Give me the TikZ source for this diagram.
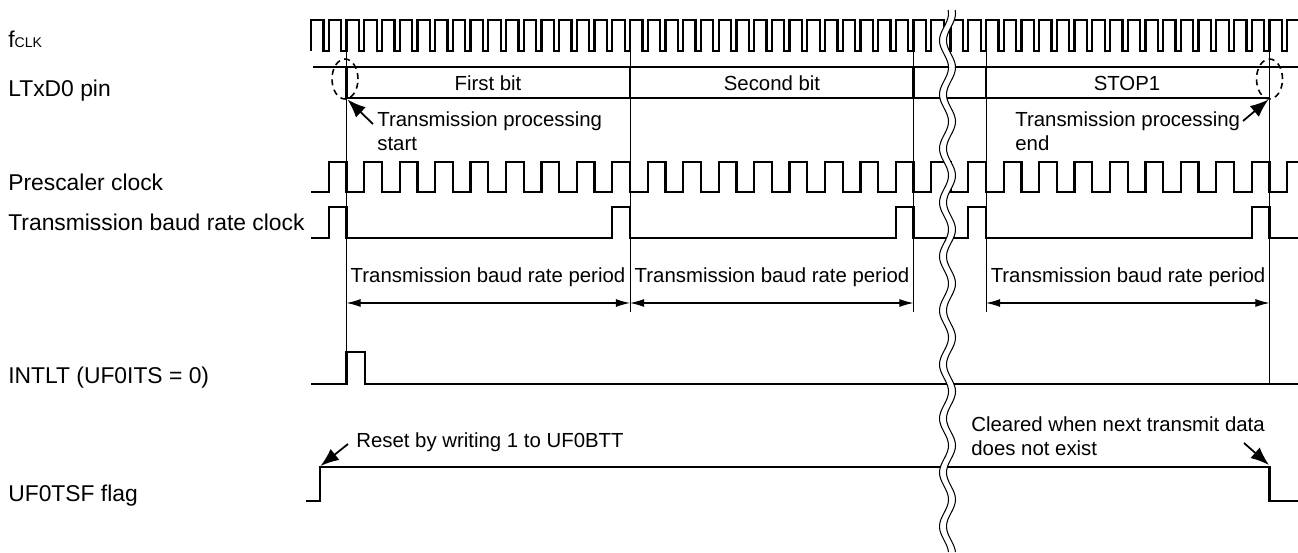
\documentclass[tikz,border=0pt]{standalone}
\usepackage{fontspec}
\setmainfont{Liberation Sans}
\usetikzlibrary{arrows.meta}

\begin{document}
\begin{tikzpicture}[
    x=0.02cm, y=-0.02cm,
    sig/.style={line width=1.3pt},
    marker/.style={line width=0.5pt},
    lbl/.style={inner sep=0pt, anchor=base west, font=\fontsize{13}{15}\selectfont},
    note/.style={inner sep=0pt, align=left, anchor=base west, font=\fontsize{11.6}{13.2}\selectfont},
    bitname/.style={inner sep=0pt, anchor=base, font=\fontsize{11.6}{13.2}\selectfont},
    period/.style={{Latex[length=8pt,width=4.5pt]}-{Latex[length=8pt,width=4.5pt]}, line width=0.6pt},
    pointer/.style={-{Latex[length=10.5pt,width=8pt]}, line width=1pt},
    ring/.style={line width=0.9pt, dash pattern=on 3.4pt off 2.6pt},
    gapline/.style={line width=0.6pt},
  ]
    \useasboundingbox (0,0) rectangle (1298,552);

    % Signal names
    \node[lbl] (fclk) at (8,47) {f{\fontsize{8}{8}\selectfont CLK}};
    \node[lbl] (txd) at (8,96) {LTxD0 pin};
    \node[lbl] (presc) at (8,190) {Prescaler clock};
    \node[lbl] (baud) at (8,230) {Transmission baud rate clock};
    \node[lbl] (intlt) at (8,383) {INTLT (UF0ITS = 0)};
    \node[lbl] (tsf) at (8,501) {UF0TSF flag};

    % Waveforms before the break
    \begin{scope}
      \clip plot[domain=-5:560, samples=200, variable=\t]
        ({944+4.5*sin((\t/54)*360)},{\t}) -- (0,560) -- (0,-5) -- cycle;
      \draw[sig] (311.1,51) \foreach \k in {1,...,37}
        { -- ++(0,-31) -- ++(12.4,0) -- ++(0,31) -- ++(5.32,0) };
      \draw[sig] (313,67) -- (960,67);
      \draw[sig] (346.5,98) -- (960,98);
      \foreach \b in {346.5,630,913.5}
        \draw[sig] (\b,67) -- (\b,98);
      \draw[sig] (311,192) -- (328.8,192) \foreach \k in {1,...,18}
        { -- ++(0,-30) -- ++(17.72,0) -- ++(0,30) -- ++(17.72,0) };
      \draw[sig] (311,238) -- (328.8,238) \foreach \k in {1,2,3}
        { -- ++(0,-31) -- ++(17.72,0) -- ++(0,31) -- ++(265.78,0) };
      \draw[sig] (311,384) -- (346.5,384) -- (346.5,352) -- (365,352)
        -- (365,384) -- (960,384);
      \draw[sig] (306,501) -- (320,501) -- (320,467) -- (960,467);
    \end{scope}

    % Waveforms after the break
    \begin{scope}
      \clip plot[domain=-5:560, samples=200, variable=\t]
        ({951+4.5*sin((\t/54)*360)},{\t}) -- (1298,560) -- (1298,-5) -- cycle;
      \draw[sig] (932.8,51) \foreach \k in {1,...,21}
        { -- ++(0,-31) -- ++(12.4,0) -- ++(0,31) -- ++(5.32,0) };
      \draw[sig] (930,67) -- (1298,67);
      \draw[sig] (930,98) -- (1269.5,98);
      \draw[sig] (986,67) -- (986,98);
      \draw[sig] (932.8,192) \foreach \k in {1,...,11}
        { -- ++(0,-30) -- ++(17.72,0) -- ++(0,30) -- ++(17.72,0) };
      \draw[sig] (930,238) -- (968.3,238) \foreach \k in {1,2}
        { -- ++(0,-31) -- ++(17.72,0) -- ++(0,31) -- ++(265.78,0) };
      \draw[sig] (930,384) -- (1298,384);
      \draw[sig] (930,467) -- (1269.5,467) -- (1269.5,501) -- (1298,501);
    \end{scope}

    % Break marks
    \draw[gapline] plot[domain=10:552, samples=200, variable=\t]
      ({944+4.5*sin((\t/54)*360)},{\t});
    \draw[gapline] plot[domain=10:552, samples=200, variable=\t]
      ({951+4.5*sin((\t/54)*360)},{\t});

    % Bit boundaries
    \draw[marker] (346.5,51) -- (346.5,352);
    \foreach \b in {630,913.5,986}
      \draw[marker] (\b,51) -- (\b,312);
    \draw[marker] (1269.5,51) -- (1269.5,384);

    % Bit names
    \node[bitname] (bit1) at (488,90.5) {First bit};
    \node[bitname] (bit2) at (772,90.5) {Second bit};
    \node[bitname] (bit3) at (1127,90.5) {STOP1};

    % Start and end of transmission
    \draw[ring] (345,79) ellipse [x radius=0.26cm, y radius=0.4cm];
    \draw[ring] (1269.5,79) ellipse [x radius=0.26cm, y radius=0.4cm];
    \node[note] (txstart) at (377,150) {Transmission processing\\start};
    \node[note] (txend) at (1015,150) {Transmission processing\\end};
    \coordinate (startcorner) at (347.5,99.5);
    \coordinate (endcorner) at (1268.5,99.5);
    \coordinate (starttail) at (373,124);
    \coordinate (endtail) at (1243,121);
    \draw[pointer] (starttail) -- (startcorner);
    \draw[pointer] (endtail) -- (endcorner);

    % Baud rate periods
    \coordinate (p0) at (346.5,303);
    \coordinate (p1) at (630,303);
    \coordinate (p2) at (913.5,303);
    \coordinate (p3) at (986,303);
    \coordinate (p4) at (1269.5,303);
    \draw[period] (p0) -- (p1);
    \draw[period] (p1) -- (p2);
    \draw[period] (p3) -- (p4);
    \node[bitname] (per1) at (488,282) {Transmission baud rate period};
    \node[bitname] (per2) at (772,282) {Transmission baud rate period};
    \node[bitname] (per3) at (1128,282) {Transmission baud rate period};

    % UF0TSF notes
    \node[note] (reset) at (356,447) {Reset by writing 1 to UF0BTT};
    \node[note] (clear) at (971,455) {Cleared when next transmit data\\does not exist};
    \coordinate (resettail) at (348,444);
    \coordinate (resetedge) at (320.5,466);
    \coordinate (cleartail) at (1244,443);
    \coordinate (clearedge) at (1269,465);
    \draw[pointer] (resettail) -- (resetedge);
    \draw[pointer] (cleartail) -- (clearedge);
  \end{tikzpicture}
\end{document}
